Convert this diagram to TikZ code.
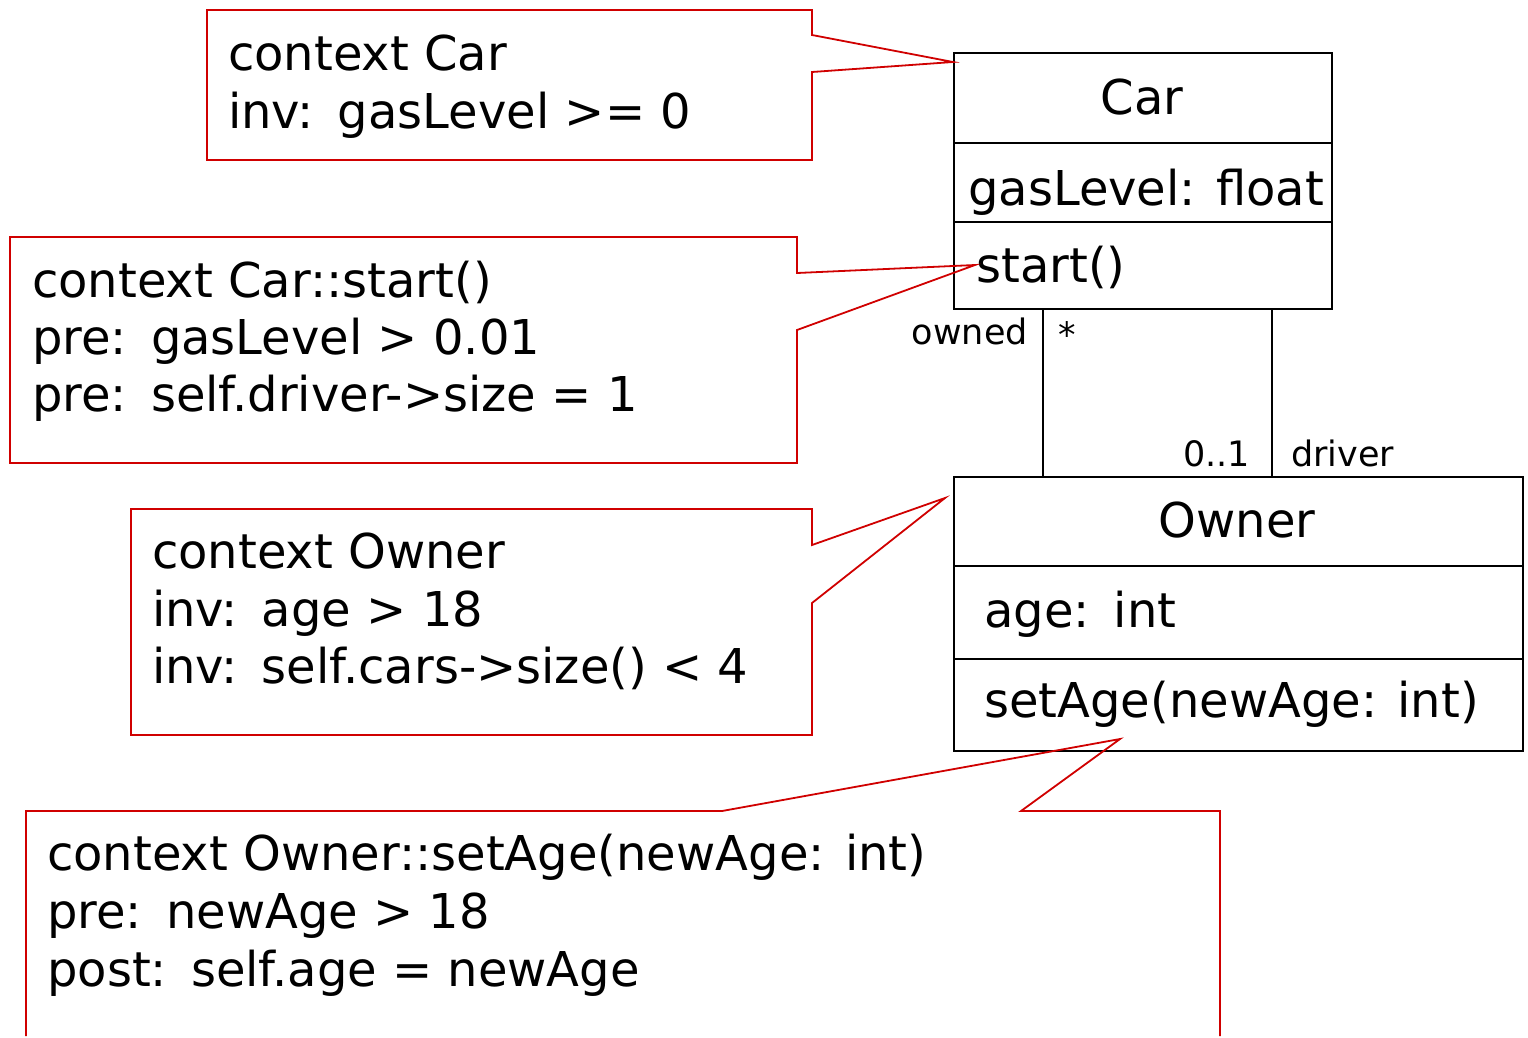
\documentclass[tikz,border=0pt]{standalone}
\usepackage{fontspec}
\setmainfont{DejaVu Sans}
\definecolor{notered}{RGB}{208,0,0}
\newcommand{\csep}{\hspace{0.5em}}
\begin{document}
\begin{tikzpicture}[x=1pt,y=-1pt,
  notebox/.style={draw=notered,line width=1.8pt,line join=miter},
  classbox/.style={draw=black,line width=2pt},
  assoc/.style={draw=black,line width=1.5pt},
  big/.style={inner sep=0pt,anchor=base west,font=\fontsize{48}{58}\selectfont},
  small/.style={inner sep=0pt,font=\fontsize{35}{42}\selectfont}]
\useasboundingbox (0,0) rectangle (1528,1037);
\fill[white] (0,0) rectangle (1528,1037);

% ---- classes ----
\node[classbox,anchor=north west,minimum width=378pt,minimum height=256pt,inner sep=0pt] (car) at (953,52) {};
\draw[classbox] (953,143) -- (1331,143);
\draw[classbox] (953,222) -- (1331,222);
\node[big,anchor=base] (carname) at (1142,114) {Car};
\node[big] (carattr) at (968,205) {gasLevel: float};
\node[big] (carop) at (976,282) {start()};

\node[classbox,anchor=north west,minimum width=569pt,minimum height=274pt,inner sep=0pt] (owner) at (953,476) {};
\draw[classbox] (953,566) -- (1522,566);
\draw[classbox] (953,659) -- (1522,659);
\node[big,anchor=base] (ownername) at (1237,537) {Owner};
\node[big] (ownerattr) at (984,627) {age:\csep int};
\node[big] (ownerop) at (984,717) {setAge(newAge: int)};

% ---- associations ----
\coordinate (a1s) at (1043,308); \coordinate (a1e) at (1043,476);
\coordinate (a2s) at (1272,308); \coordinate (a2e) at (1272,476);
\draw[assoc] (a1s) -- (a1e);
\draw[assoc] (a2s) -- (a2e);
\node[small,anchor=base east] (lowned) at (1028,344) {owned};
\node[small,anchor=base west] (lstar) at (1058,347) {*};
\node[small,anchor=base east] (lmult) at (1250,466) {0..1};
\node[small,anchor=base west] (ldriver) at (1291,466) {driver};

% ---- note 1 ----
\coordinate (p1) at (953,62);
\draw[notebox] (207,10) -- (812,10) -- (812,35) -- (p1) -- (812,72) -- (812,160) -- (207,160) -- cycle;
\node[big] (n1a) at (228,70) {context Car};
\node[big] (n1b) at (228,128) {inv:\csep gasLevel >= 0};

% ---- note 2 ----
\coordinate (p2) at (975,265);
\draw[notebox] (10,237) -- (797,237) -- (797,273) -- (p2) -- (797,330) -- (797,463) -- (10,463) -- cycle;
\node[big] (n2a) at (32,297) {context Car::start()};
\node[big] (n2b) at (32,354) {pre:\csep gasLevel > 0.01};
\node[big] (n2c) at (32,411) {pre:\csep self.driver->size = 1};

% ---- note 3 ----
\coordinate (p3) at (945,498);
\draw[notebox] (131,509) -- (812,509) -- (812,545) -- (p3) -- (812,603) -- (812,735) -- (131,735) -- cycle;
\node[big] (n3a) at (152,568) {context Owner};
\node[big] (n3b) at (152,626) {inv:\csep age > 18};
\node[big] (n3c) at (152,683) {inv:\csep self.cars->size() < 4};

% ---- note 4 ----
\coordinate (p4) at (1120,739);
\draw[notebox] (26,1036) -- (26,811) -- (722,811) -- (p4) -- (1021,811) -- (1220,811) -- (1220,1036);
\node[big] (n4a) at (47,870) {context Owner::setAge(newAge: int)};
\node[big] (n4b) at (47,928) {pre:\csep newAge > 18};
\node[big] (n4c) at (47,986) {post:\csep self.age = newAge};
\end{tikzpicture}
\end{document}
